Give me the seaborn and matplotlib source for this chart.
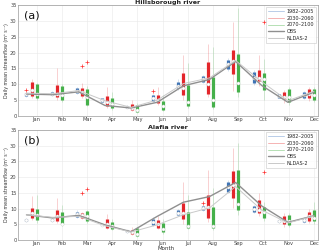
import numpy as np
import pandas as pd
import matplotlib
matplotlib.use('Agg')
import matplotlib.pyplot as plt
import seaborn as sns
from matplotlib.lines import Line2D

sns.set_theme(style='whitegrid')
plt.rcParams['font.family'] = ['DejaVu Sans']

months = ['Jan', 'Feb', 'Mar', 'Apr', 'May', 'Jun',
          'Jul', 'Aug', 'Sep', 'Oct', 'Nov', 'Dec']
periods = ['1982\u20132005', '2030\u20132060', '2070\u20132100']

# (whisker low, q1, median, q3, whisker high) per month
hills_hist = [(6.0, 6.3, 6.8, 7.3, 7.6), (6.2, 6.5, 7.0, 7.6, 7.9), (6.8, 7.1, 7.9, 8.7, 9.2),
              (4.2, 4.4, 4.9, 5.5, 5.8), (2.4, 2.6, 2.8, 3.1, 3.3), (4.5, 4.8, 5.6, 6.5, 7.0),
              (8.3, 8.7, 9.6, 10.8, 11.8), (10.3, 10.7, 11.6, 12.5, 13.0), (14.2, 14.9, 16.4, 17.6, 18.2),
              (9.8, 10.4, 12.0, 14.0, 14.5), (5.5, 5.7, 6.2, 6.8, 7.0), (5.4, 5.7, 6.6, 7.5, 7.8)]
hills_mid = [(5.5, 6.3, 8.2, 10.7, 11.5), (5.0, 6.0, 7.0, 9.9, 15.0), (5.5, 6.2, 7.7, 8.7, 10.5),
             (2.5, 3.1, 4.5, 6.3, 9.2), (1.6, 2.0, 2.6, 3.7, 5.0), (3.5, 4.1, 5.0, 6.5, 9.2),
             (5.0, 6.5, 8.8, 13.7, 19.2), (5.9, 7.0, 10.0, 17.1, 22.8), (8.0, 13.1, 17.3, 20.8, 29.7),
             (9.5, 10.9, 12.0, 14.4, 19.2), (4.2, 5.4, 6.0, 7.5, 8.3), (4.8, 5.7, 7.0, 8.4, 9.2)]
hills_late = [(5.0, 5.7, 7.0, 10.2, 10.5), (4.5, 5.0, 6.5, 9.5, 10.0), (3.0, 3.4, 6.0, 8.4, 9.5),
              (2.0, 2.6, 3.8, 5.8, 7.5), (1.0, 1.3, 2.0, 3.4, 4.0), (1.5, 2.0, 3.2, 4.8, 6.5),
              (2.5, 3.1, 4.5, 9.7, 16.6), (2.3, 2.7, 4.9, 12.3, 21.8), (5.9, 7.4, 10.4, 19.6, 34.0),
              (5.0, 8.1, 11.5, 13.7, 18.0), (3.5, 4.3, 6.1, 8.6, 9.0), (4.3, 4.9, 6.5, 8.6, 9.2)]
hills_outliers = [(0, 1, 8.1), (0, 6, 7.8), (1, 3, 15.7), (2, 3, 17.0), (2, 10, 29.5)]
hills_obs = [6.9, 6.7, 7.6, 3.3, 2.5, 4.3, 9.5, 11.5, 17.2, 9.6, 4.3, 7.5]
hills_nldas = [7.2, 7.0, 8.0, 4.8, 2.7, 5.0, 10.2, 12.0, 17.5, 10.8, 4.8, 7.8]

alafia_hist = [(5.8, 6.0, 6.3, 6.7, 6.9), (5.8, 6.0, 6.3, 6.7, 6.9), (7.0, 7.4, 8.3, 9.0, 9.4),
               (4.4, 4.6, 4.9, 5.2, 5.4), (2.2, 2.4, 2.7, 3.1, 3.3), (4.5, 4.8, 5.8, 6.7, 7.2),
               (7.6, 8.0, 8.7, 9.5, 10.0), (9.2, 9.5, 10.1, 10.8, 11.2), (14.8, 15.4, 17.0, 18.6, 19.2),
               (8.6, 9.0, 10.0, 10.8, 11.2), (5.4, 5.6, 6.0, 6.4, 6.6), (5.5, 5.8, 6.4, 7.1, 7.4)]
alafia_mid = [(6.4, 7.1, 8.5, 10.3, 14.1), (5.5, 6.0, 7.5, 9.5, 13.3), (6.8, 7.1, 8.0, 8.7, 9.0),
              (3.5, 3.9, 5.0, 6.7, 8.2), (1.5, 1.8, 2.5, 3.2, 4.2), (3.5, 3.9, 5.0, 6.2, 7.5),
              (5.2, 6.7, 8.5, 11.7, 18.6), (5.8, 7.1, 10.5, 14.3, 22.3), (10.1, 13.5, 17.5, 22.0, 29.4),
              (7.5, 8.5, 9.5, 12.7, 15.0), (4.2, 5.0, 6.0, 7.7, 8.5), (5.5, 6.0, 7.5, 9.0, 9.8)]
alafia_late = [(5.5, 6.4, 8.0, 9.9, 14.3), (4.5, 5.0, 5.1, 9.0, 11.1), (5.5, 6.0, 7.5, 9.2, 9.5),
               (3.0, 3.5, 4.5, 5.8, 6.5), (1.0, 1.4, 2.0, 3.7, 4.0), (2.0, 2.4, 3.5, 5.3, 6.5),
               (3.5, 3.9, 4.5, 8.8, 14.3), (3.0, 3.7, 4.5, 10.6, 16.4), (8.0, 9.5, 11.5, 22.3, 31.0),
               (6.0, 7.1, 9.0, 10.6, 12.0), (4.2, 4.8, 6.0, 8.0, 8.5), (5.2, 6.0, 7.0, 9.5, 12.2)]
alafia_outliers = [(0, 8, 11.6), (1, 3, 15.1), (2, 3, 16.2), (2, 10, 21.5)]
alafia_obs = [8.0, 7.0, 7.8, 4.8, 2.6, 7.5, 12.0, 13.8, 18.3, 10.8, 5.6, 7.7]
alafia_nldas = [8.0, 7.2, 7.5, 4.5, 2.5, 4.8, 8.0, 10.2, 17.0, 9.5, 5.4, 7.6]

colors = ['#3f74b5', '#e3262b', '#45b04a']
offsets = [-0.4, -0.2, 0.0]
light = ['#b9cde8', '#f5b3b3', '#b5e0b4']


def draw_panel(ax, stats_list, outliers, obs, nldas, title, tag):
    for stats, off, col in zip(stats_list, offsets, colors):
        x = np.arange(1, 13) + off
        lo, q1, med, q3, hi = [np.array(v) for v in zip(*stats)]
        ax.vlines(x, lo, hi, color=col, lw=0.6, alpha=0.25, zorder=2)
        ax.vlines(x, q1, q3, color=col, lw=2.3, zorder=3)
        ax.scatter(x, med, s=5, facecolor='white', edgecolor='#d0d0d0', lw=0.3, zorder=4)
    for p, m, v in outliers:
        ax.scatter(m + offsets[p], v, marker='+', s=6, color='#ff3030', lw=0.5, zorder=4)

    line_x = np.linspace(0.6, 12.0, 12)
    df = pd.DataFrame({'x': np.concatenate([line_x, line_x]),
                       'flow': obs + nldas,
                       'src': ['OBS'] * 12 + ['NLDAS-2'] * 12})
    sns.lineplot(data=df[df.src == 'OBS'], x='x', y='flow', color='#8f8f8f', lw=1.0, ax=ax, zorder=5)
    sns.lineplot(data=df[df.src == 'NLDAS-2'], x='x', y='flow', color='#c9c9c9', lw=0.7, ax=ax, zorder=5)

    ax.set_xlim(0.26, 12.16)
    ax.set_ylim(0, 35)
    ax.set_xticks(np.arange(1, 13))
    ax.set_xticklabels(months)
    ax.set_yticks(np.arange(0, 36, 5))
    ax.tick_params(labelsize=3.7, length=1.5, width=0.4, pad=1.0, colors='#444444', direction='in')
    ax.grid(True, color='#e8e8e8', lw=0.4)
    for s in ax.spines.values():
        s.set_color('#9a9a9a')
        s.set_linewidth(0.5)
    ax.set_xlabel('')
    ax.set_ylabel('Daily mean streamflow (m\u00b3 s\u207b\u00b9)', fontsize=3.4, color='#333333')
    ax.yaxis.set_label_coords(-0.031, 0.5)
    ax.set_title(title, fontsize=4.6, fontweight='bold', pad=0.8, color='#222222')
    ax.text(0.02, 0.95, tag, transform=ax.transAxes, fontsize=8, va='top', ha='left', color='#111111')

    handles = [Line2D([], [], color=light[0], lw=0.7),
               Line2D([], [], color=light[1], lw=0.7),
               Line2D([], [], color=light[2], lw=0.7),
               Line2D([], [], color='#8f8f8f', lw=1.0),
               Line2D([], [], color='#c9c9c9', lw=0.7)]
    leg = ax.legend(handles, periods + ['OBS', 'NLDAS-2'], loc='upper right', fontsize=3.5,
                    frameon=True, fancybox=False, handlelength=3.2, borderpad=0.4,
                    labelspacing=0.35, handletextpad=0.6, borderaxespad=0.4)
    leg.get_frame().set_edgecolor('#bbbbbb')
    leg.get_frame().set_linewidth(0.4)


fig = plt.figure(figsize=(3.2, 2.52), dpi=100)
ax1 = fig.add_axes([0.056, 0.54, 0.938, 0.44])
ax2 = fig.add_axes([0.056, 0.048, 0.938, 0.436])
draw_panel(ax1, [hills_hist, hills_mid, hills_late], hills_outliers, hills_obs, hills_nldas,
           'Hillsborough river', '(a)')
draw_panel(ax2, [alafia_hist, alafia_mid, alafia_late], alafia_outliers, alafia_obs, alafia_nldas,
           'Alafia river', '(b)')
fig.text(0.52, 0.003, 'Month', fontsize=4, ha='center', va='bottom', color='#333333')

fig.savefig('out.png', dpi=100)
